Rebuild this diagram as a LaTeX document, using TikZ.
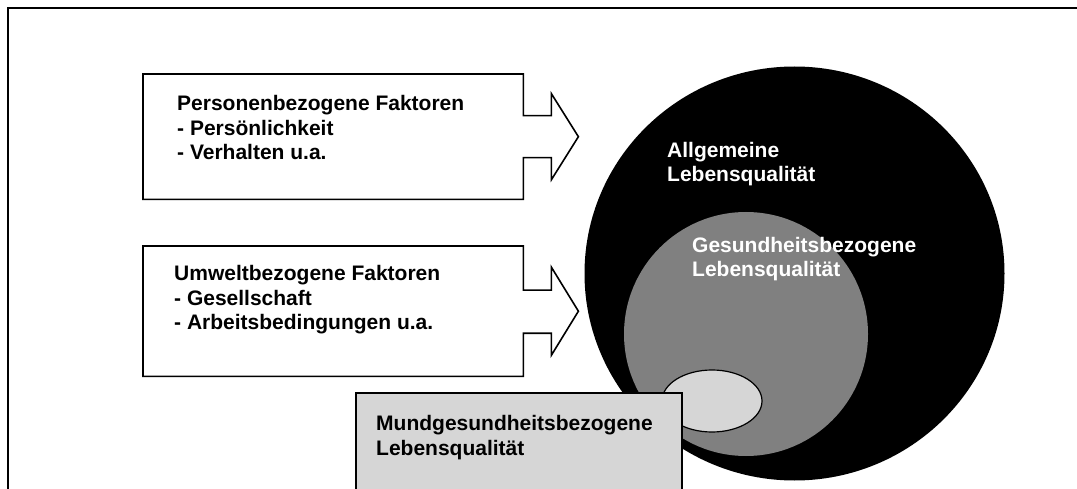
\documentclass[tikz,border=0pt]{standalone}
\usepackage{fontspec}
\setmainfont{Liberation Sans}
\usetikzlibrary{calc,shapes.geometric}
\tikzset{
  x=1pt, y=1pt,
  outline/.style={draw=black, line width=1.6pt, line join=miter},
  boxframe/.style={minimum width=380pt, minimum height=125pt, anchor=north west, inner sep=0pt},
  lbl/.style={anchor=base west, inner sep=0pt, align=left, font=\fontsize{21}{24.5}\selectfont\bfseries},
}
\definecolor{midgray}{HTML}{808080}
\definecolor{lightgray}{HTML}{D6D6D6}
\begin{document}
\begin{tikzpicture}
\useasboundingbox (0,0) rectangle (1077,488);
\clip (0,0) rectangle (1077,488);
% frame (only top and left edges visible)
\coordinate (frTL) at (8,480);
\coordinate (frTR) at (1085,480);
\coordinate (frBL) at (8,-10);
\draw[line width=2pt] (frBL) -- (frTL) -- (frTR);

% circles
\node[ellipse, fill=black, minimum width=420pt, minimum height=414pt, inner sep=0pt] (allg) at (794.5,214.5) {};
\node[circle, fill=midgray, minimum size=244pt, inner sep=0pt] (ges) at (746,154) {};
\node[ellipse, draw=black, line width=1.2pt, fill=lightgray, minimum width=100pt, minimum height=62pt, inner sep=0pt] (mund) at (712,87) {};

% box 1 with block arrow
\node[boxframe] (p) at (143,414) {};
\draw[outline, fill=white]
  (p.south east) -- ($(p.east)+(0,-21)$) -- ($(p.east)+(28,-21)$) -- ($(p.east)+(28,-43)$)
  -- ($(p.east)+(55,0)$) -- ($(p.east)+(28,43)$) -- ($(p.east)+(28,21)$) -- ($(p.east)+(0,21)$)
  -- (p.north east) -- (p.north west) -- (p.south west) -- cycle;
\node[lbl] (ptext) at (177,328) {Personenbezogene Faktoren\\- Persönlichkeit\\- Verhalten u.a.};

% box 2 with block arrow
\node[boxframe, minimum height=130pt] (u) at (143,242) {};
\draw[outline, fill=white]
  (u.south east) -- ($(u.east)+(0,-22)$) -- ($(u.east)+(28,-22)$) -- ($(u.east)+(28,-44)$)
  -- ($(u.east)+(55,0)$) -- ($(u.east)+(28,44)$) -- ($(u.east)+(28,21)$) -- ($(u.east)+(0,21)$)
  -- (u.north east) -- (u.north west) -- (u.south west) -- cycle;
\node[lbl] (utext) at (174,158) {Umweltbezogene Faktoren\\- Gesellschaft\\- Arbeitsbedingungen u.a.};

% circle labels
\node[lbl, text=white] (allgtext) at (667,306) {Allgemeine\\Lebensqualität};
\node[lbl, text=white] (gestext) at (692,211) {Gesundheitsbezogene\\Lebensqualität};

% Mund box
\node[outline, fill=lightgray, minimum width=326pt, minimum height=120pt, anchor=north west, inner sep=0pt] (mbox) at (355,96) {};
\node[lbl] (mtext) at (376,33) {Mundgesundheitsbezogene\\Lebensqualität};
\end{tikzpicture}
\end{document}
